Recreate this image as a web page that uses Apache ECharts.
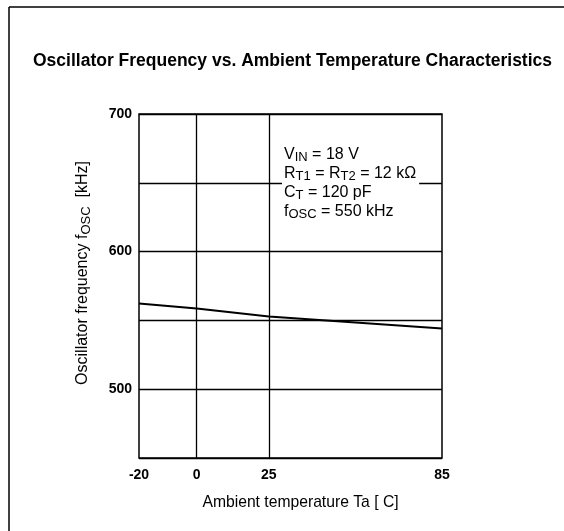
<!DOCTYPE html>
<html><head><meta charset="utf-8">
<script src="https://cdn.jsdelivr.net/npm/echarts@6/dist/echarts.min.js"></script>
<style>html,body{margin:0;padding:0;background:#fff}#c{width:564px;height:531px}</style>
</head><body><div id="c"></div>
<script>
const temps = [-20, 0, 25, 45, 85];
const freqs = [562.3, 558.7, 552.8, 550.0, 544.2];
const xTickLabels = [-20, 0, 25, 85];
const xGridLines = [0, 25];
const yTickLabels = [500, 600, 700];
const titleText = 'Oscillator Frequency vs. Ambient Temperature Characteristics';
const FONT = '"Liberation Sans", Arial, sans-serif';

const chart = echarts.init(document.getElementById('c'), null, {renderer:'canvas'});
chart.setOption({
  animation:false,
  backgroundColor:'#fff',
  title:{text:titleText,left:28,top:47,textStyle:{fontFamily:FONT,fontSize:17.5,fontWeight:'bold',color:'#000'}},
  grid:{left:139,right:122,top:114,bottom:73,show:true,borderColor:'#000',borderWidth:1.5,backgroundColor:'transparent'},
  xAxis:{type:'value',min:-20,max:85,
    axisLine:{show:false},axisTick:{show:false},splitLine:{show:false},
    axisLabel:{customValues:xTickLabels,fontFamily:FONT,fontSize:14,fontWeight:'bold',color:'#000',margin:10},
    name:'Ambient temperature Ta [ C]',nameLocation:'middle',nameGap:37,
    nameTextStyle:{fontFamily:FONT,fontSize:15.7,color:'#000',padding:[0,0,0,20]}},
  yAxis:{type:'value',min:450,max:700,interval:50,
    axisLine:{show:false},axisTick:{show:false},
    splitLine:{show:true,lineStyle:{color:'#000',width:1.3}},
    axisLabel:{fontFamily:FONT,fontSize:14,fontWeight:'bold',color:'#000',margin:7,formatter:v=>yTickLabels.includes(v)?String(v):''},
    name:'{n|Oscillator frequency f}{s|OSC}{n|  [kHz]}',nameLocation:'middle',nameGap:46,
    nameTextStyle:{fontFamily:FONT,fontSize:16,color:'#000',padding:[0,0,0,26],
      rich:{n:{fontFamily:FONT,fontSize:16,color:'#000'},s:{fontFamily:FONT,fontSize:13,color:'#000',verticalAlign:'bottom',padding:[7,0,0,0]}}}},
  series:[{type:'line',data:temps.map((t,i)=>[t,freqs[i]]),showSymbol:false,symbol:'none',
    lineStyle:{color:'#000',width:2},
    markLine:{silent:true,symbol:'none',label:{show:false},lineStyle:{color:'#000',width:1.3,type:'solid'},
      data:xGridLines.map(v=>({xAxis:v}))}}],
  graphic:[
    {type:'line',shape:{x1:9,y1:7,x2:564,y2:7},style:{stroke:'#000',lineWidth:1.5},silent:true},
    {type:'line',shape:{x1:9,y1:7,x2:9,y2:531},style:{stroke:'#000',lineWidth:1.5},silent:true},
    {type:'text',left:282,top:143,z:10,style:{
      text:'{n|V}{s|IN}{n| = 18 V}\n{n|R}{s|T1}{n| = R}{s|T2}{n| = 12 kΩ}\n{n|C}{s|T}{n| = 120 pF}\n{n|f}{s|OSC}{n| = 550 kHz}',
      backgroundColor:'#fff',padding:[2,3,2,2],
      rich:{n:{fontFamily:FONT,fontSize:16,fill:'#000',lineHeight:19},s:{fontFamily:FONT,fontSize:13,fill:'#000',lineHeight:19,verticalAlign:'bottom',padding:[7,0,0,0]}}}}
  ]
});
</script></body></html>
